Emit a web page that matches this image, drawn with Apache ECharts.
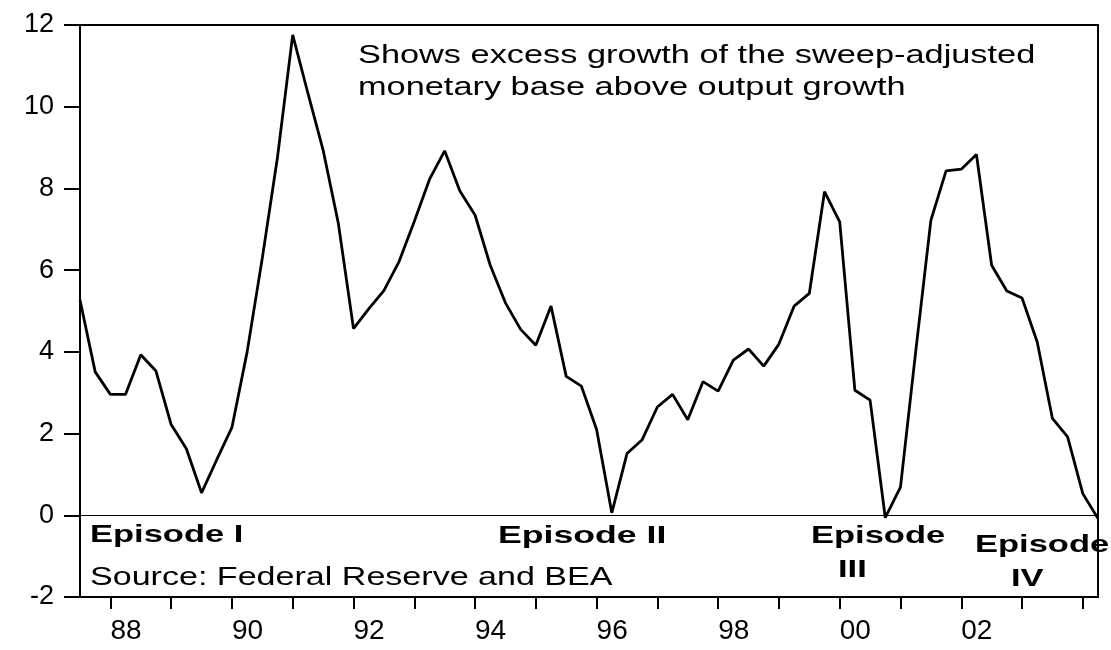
<!DOCTYPE html>
<html>
<head>
<meta charset="utf-8">
<script src="https://cdn.jsdelivr.net/npm/echarts@6/dist/echarts.min.js"></script>
<style>
html,body{margin:0;padding:0;background:#fff;}
#chart{width:1111px;height:650px;}
</style>
</head>
<body>
<div id="chart"></div>
<script>
// Quarterly categories (1987Q3 .. 2004Q2)
var quarters = [
 '1987Q3','1987Q4',
 '1988Q1','1988Q2','1988Q3','1988Q4',
 '1989Q1','1989Q2','1989Q3','1989Q4',
 '1990Q1','1990Q2','1990Q3','1990Q4',
 '1991Q1','1991Q2','1991Q3','1991Q4',
 '1992Q1','1992Q2','1992Q3','1992Q4',
 '1993Q1','1993Q2','1993Q3','1993Q4',
 '1994Q1','1994Q2','1994Q3','1994Q4',
 '1995Q1','1995Q2','1995Q3','1995Q4',
 '1996Q1','1996Q2','1996Q3','1996Q4',
 '1997Q1','1997Q2','1997Q3','1997Q4',
 '1998Q1','1998Q2','1998Q3','1998Q4',
 '1999Q1','1999Q2','1999Q3','1999Q4',
 '2000Q1','2000Q2','2000Q3','2000Q4',
 '2001Q1','2001Q2','2001Q3','2001Q4',
 '2002Q1','2002Q2','2002Q3','2002Q4',
 '2003Q1','2003Q2','2003Q3','2003Q4',
 '2004Q1','2004Q2'
];

// Excess growth of sweep-adjusted monetary base above output growth (%)
var excessGrowth = [
 5.27, 3.51,
 2.96, 2.96, 3.93, 3.53,
 2.22, 1.63, 0.55, 1.36,
 2.15, 4.00, 6.30, 8.77,
 11.76, 10.33, 8.94, 7.15,
 4.57, 5.05, 5.50, 6.21,
 7.19, 8.22, 8.92, 7.94,
 7.35, 6.12, 5.20, 4.55,
 4.16, 5.12, 3.40, 3.16,
 2.10, 0.06, 1.51, 1.85,
 2.65, 2.96, 2.34, 3.27,
 3.04, 3.80, 4.07, 3.65,
 4.19, 5.12, 5.43, 7.92,
 7.18, 3.06, 2.82, -0.06,
 0.69, 4.00, 7.22, 8.43,
 8.47, 8.83, 6.12, 5.49,
 5.32, 4.24, 2.37, 1.92,
 0.53, -0.08
];

// Tick labels on the time axis
var labelQuarters = ['1988Q1','1990Q1','1992Q1','1994Q1','1996Q1','1998Q1','2000Q1','2002Q1'];
var tickLabels    = ['88','90','92','94','96','98','00','02'];
// Quarters that carry a tick mark (first quarter of each year)
var tickQuarters = ['1988Q1','1989Q1','1990Q1','1991Q1','1992Q1','1993Q1','1994Q1','1995Q1',
  '1996Q1','1997Q1','1998Q1','1999Q1','2000Q1','2001Q1','2002Q1','2003Q1','2004Q1'];

// Y axis
var yMin = -2, yMax = 12, yStep = 2;

// Annotation texts
var noteLines = ['Shows excess growth of the sweep-adjusted', 'monetary base above output growth'];
var sourceText = 'Source: Federal Reserve and BEA';
var episodeTexts = ['Episode I', 'Episode II', 'Episode', 'III', 'Episode', 'IV'];

var FONT = "'Liberation Sans', Arial, sans-serif";

var chart = echarts.init(document.getElementById('chart'), null, {renderer: 'canvas'});

function txt(str, x, y, size, bold, sx) {
  return {
    type: 'text', x: x, y: y, scaleX: sx, silent: true, z: 10,
    style: {
      text: str,
      font: (bold ? 'bold ' : '') + size + 'px ' + FONT,
      fill: '#000',
      textAlign: 'left',
      textVerticalAlign: 'middle'
    }
  };
}

var option = {
  animation: false,
  backgroundColor: '#fff',
  grid: {
    left: 80, right: 13, top: 25, bottom: 53,
    show: true, borderColor: '#000', borderWidth: 2, backgroundColor: 'transparent'
  },
  xAxis: {
    type: 'category',
    data: quarters,
    boundaryGap: false,
    axisLine: {show: true, onZero: false, lineStyle: {color: '#000', width: 2}},
    axisTick: {
      show: true, inside: false, length: 12,
      interval: function (idx, val) { return tickQuarters.indexOf(val) >= 0; },
      lineStyle: {color: '#000', width: 2}
    },
    axisLabel: {
      show: true,
      interval: function (idx, val) { return labelQuarters.indexOf(val) >= 0; },
      formatter: function (val) {
        var i = labelQuarters.indexOf(val);
        return i >= 0 ? tickLabels[i] : '';
      },
      align: 'left',
      margin: 20,
      color: '#000',
      fontSize: 28,
      fontFamily: FONT
    },
    splitLine: {show: false}
  },
  yAxis: {
    type: 'value',
    min: yMin, max: yMax, interval: yStep,
    axisLine: {show: true, lineStyle: {color: '#000', width: 2}},
    axisTick: {show: true, inside: false, length: 16, lineStyle: {color: '#000', width: 2}},
    axisLabel: {color: '#000', fontSize: 27, fontFamily: FONT, margin: 26},
    splitLine: {show: false}
  },
  series: [{
    type: 'line',
    data: excessGrowth,
    showSymbol: false,
    symbol: 'none',
    lineStyle: {color: '#000', width: 2.8},
    itemStyle: {color: '#000'},
    markLine: {
      silent: true,
      symbol: 'none',
      label: {show: false},
      lineStyle: {color: '#000', width: 1, type: 'solid'},
      data: [{yAxis: 0}]
    }
  }],
  graphic: [
    txt(noteLines[0], 358, 56, 26, false, 1.32),
    txt(noteLines[1], 358, 88, 26, false, 1.32),
    txt(sourceText, 90, 578, 26, false, 1.31),
    txt(episodeTexts[0], 90, 536, 23, true, 1.5),
    txt(episodeTexts[1], 498, 537, 23, true, 1.55),
    txt(episodeTexts[2], 811, 537, 23, true, 1.5),
    txt(episodeTexts[3], 838, 571, 23, true, 1.5),
    txt(episodeTexts[4], 975, 546, 23, true, 1.5),
    txt(episodeTexts[5], 1011, 580, 23, true, 1.5)
  ]
};

chart.setOption(option);
</script>
</body>
</html>
